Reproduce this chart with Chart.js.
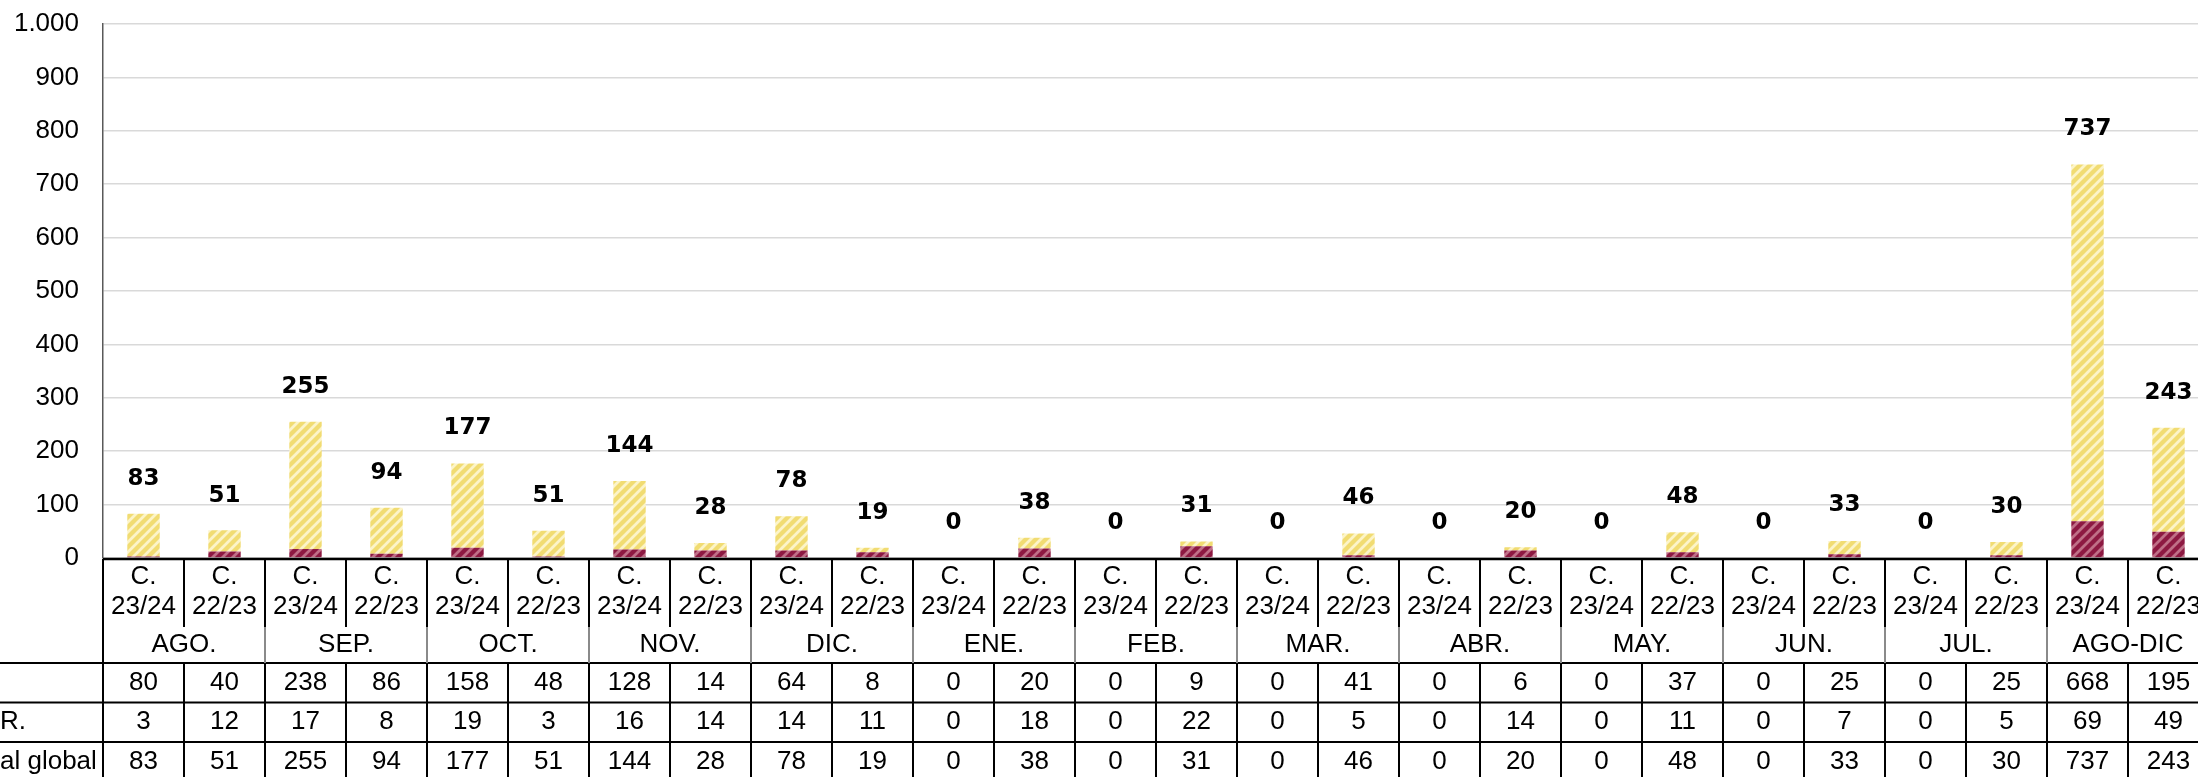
<html>
<head>
  <title>Evolución mensual</title>
  <script src="https://cdn.jsdelivr.net/npm/chart.js"></script>
  <style>
    body { margin: 0; overflow: hidden; background: #fff; }
    #grafico { display: block; }
  </style>
</head>
<body>
  <canvas id="grafico" width="2210" height="777"></canvas>
  <script>
    // datos
    const meses = ['AGO.', 'SEP.', 'OCT.', 'NOV.', 'DIC.', 'ENE.', 'FEB.', 'MAR.', 'ABR.', 'MAY.', 'JUN.', 'JUL.', 'AGO-DIC'];
    const campanas = ['C. 23/24', 'C. 22/23'];
    const serieAmarilla = [80, 40, 238, 86, 158, 48, 128, 14, 64, 8, 0, 20, 0, 9, 0, 41, 0, 6, 0, 37, 0, 25, 0, 25, 668, 195];
    const serieGranate = [3, 12, 17, 8, 19, 3, 16, 14, 14, 11, 0, 18, 0, 22, 0, 5, 0, 14, 0, 11, 0, 7, 0, 5, 69, 49];
    const totalGlobal = [83, 51, 255, 94, 177, 51, 144, 28, 78, 19, 0, 38, 0, 31, 0, 46, 0, 20, 0, 48, 0, 33, 0, 30, 737, 243];
    const etiquetasFilas = ['', 'R.', 'al global'];
    const filasTabla = [serieAmarilla, serieGranate, totalGlobal];

    // una etiqueta por columna: campaña dentro de cada mes
    const etiquetas = [];
    meses.forEach(m => campanas.forEach(c => etiquetas.push(c)));

    const FUENTE = '"Liberation Sans", Arial, sans-serif';

    // trama de rayas diagonales
    function rayado(base, raya) {
      const t = 10;
      const c = document.createElement('canvas');
      c.width = t; c.height = t;
      const g = c.getContext('2d');
      g.fillStyle = base;
      g.fillRect(0, 0, t, t);
      g.strokeStyle = raya;
      g.lineWidth = 2.8;
      g.beginPath();
      g.moveTo(-2, 2); g.lineTo(2, -2);
      g.moveTo(0, t); g.lineTo(t, 0);
      g.moveTo(t - 2, t + 2); g.lineTo(t + 2, t - 2);
      g.stroke();
      return g.createPattern(c, 'repeat');
    }

    // totales encima de cada barra
    const totales = {
      id: 'totales',
      afterDatasetsDraw(chart) {
        const ctx = chart.ctx;
        const x = chart.scales.x, y = chart.scales.y;
        ctx.save();
        ctx.font = 'bold 23px "DejaVu Sans", sans-serif';
        ctx.fillStyle = '#000';
        ctx.textAlign = 'center';
        ctx.textBaseline = 'middle';
        totalGlobal.forEach((v, i) => {
          ctx.fillText(String(v), x.getPixelForValue(i), y.getPixelForValue(v) - 35);
        });
        ctx.restore();
      }
    };

    // tabla de datos debajo del eje
    const tabla = {
      id: 'tabla',
      afterDraw(chart) {
        const ctx = chart.ctx;
        const x = chart.scales.x;
        const area = chart.chartArea;
        const ancho = chart.width;
        const top = area.bottom + 1;
        const finCab = top + 68, finMes = top + 104;
        const filas = [finMes, finMes + 39.5, finMes + 79, finMes + 118.5];
        const colW = x.getPixelForValue(1) - x.getPixelForValue(0);
        const izq = area.left;
        const abajo = chart.height + 5;

        ctx.save();
        ctx.strokeStyle = '#000';
        ctx.lineWidth = 2;
        const linea = (x1, y1, x2, y2) => { ctx.beginPath(); ctx.moveTo(x1, y1); ctx.lineTo(x2, y2); ctx.stroke(); };

        // horizontales
        ctx.lineWidth = 2.5;
        linea(izq, top, ancho, top);
        ctx.lineWidth = 2;
        filas.slice(0, 3).forEach(yy => linea(0, yy, ancho, yy));

        // verticales
        for (let i = 0; i <= etiquetas.length; i++) {
          const xb = izq + i * colW;
          linea(xb, top, xb, finCab);
          linea(xb, finMes, xb, abajo);
          if (i % 2 === 0) {
            ctx.strokeStyle = i === 0 ? '#000' : '#8a8a8a';
            linea(xb, finCab, xb, finMes);
            ctx.strokeStyle = '#000';
          }
        }

        // textos
        ctx.fillStyle = '#000';
        ctx.font = '26px ' + FUENTE;
        ctx.textAlign = 'center';
        ctx.textBaseline = 'middle';
        etiquetas.forEach((et, i) => {
          const cx = x.getPixelForValue(i);
          const partes = et.split(' ');
          ctx.fillText(partes[0], cx, top + 18);
          ctx.fillText(partes[1], cx, top + 48);
        });
        meses.forEach((m, j) => {
          const cx = (x.getPixelForValue(2 * j) + x.getPixelForValue(2 * j + 1)) / 2;
          ctx.fillText(m, cx, finCab + 18);
        });
        filasTabla.forEach((serie, f) => {
          const cy = (filas[f] + filas[f + 1]) / 2;
          serie.forEach((v, i) => ctx.fillText(String(v), x.getPixelForValue(i), cy));
        });
        ctx.textAlign = 'left';
        etiquetasFilas.forEach((t, f) => {
          ctx.fillText(t, 0, (filas[f] + filas[f + 1]) / 2);
        });
        ctx.restore();
      }
    };

    const ctx = document.getElementById('grafico').getContext('2d');
    new Chart(ctx, {
      type: 'bar',
      data: {
        labels: etiquetas,
        datasets: [{
          label: 'R.',
          data: serieGranate,
          backgroundColor: rayado('#8d1942', '#bf6f87'),
          barPercentage: 0.4,
          categoryPercentage: 1
        }, {
          label: '',
          data: serieAmarilla,
          backgroundColor: rayado('#f1dc72', '#fcf4c8'),
          barPercentage: 0.4,
          categoryPercentage: 1
        }]
      },
      options: {
        responsive: false,
        animation: false,
        devicePixelRatio: 1,
        layout: { padding: { top: 24, right: 1, bottom: 219, left: 0 } },
        plugins: {
          legend: { display: false },
          tooltip: { enabled: false }
        },
        scales: {
          x: { display: false, stacked: true },
          y: {
            stacked: true,
            min: 0,
            max: 1000,
            afterFit(scale) {
              scale.width = 103;
              scale.paddingTop = 0;
              scale.paddingBottom = 0;
            },
            grid: { color: '#d9d9d9', lineWidth: 1.5, drawTicks: false },
            border: { color: '#595959', width: 1.5 },
            ticks: {
              stepSize: 100,
              padding: 24,
              color: '#000',
              font: { family: FUENTE, size: 26 },
              callback: v => v.toLocaleString('de-DE')
            }
          }
        }
      },
      plugins: [totales, tabla]
    });
  </script>
</body>
</html>
